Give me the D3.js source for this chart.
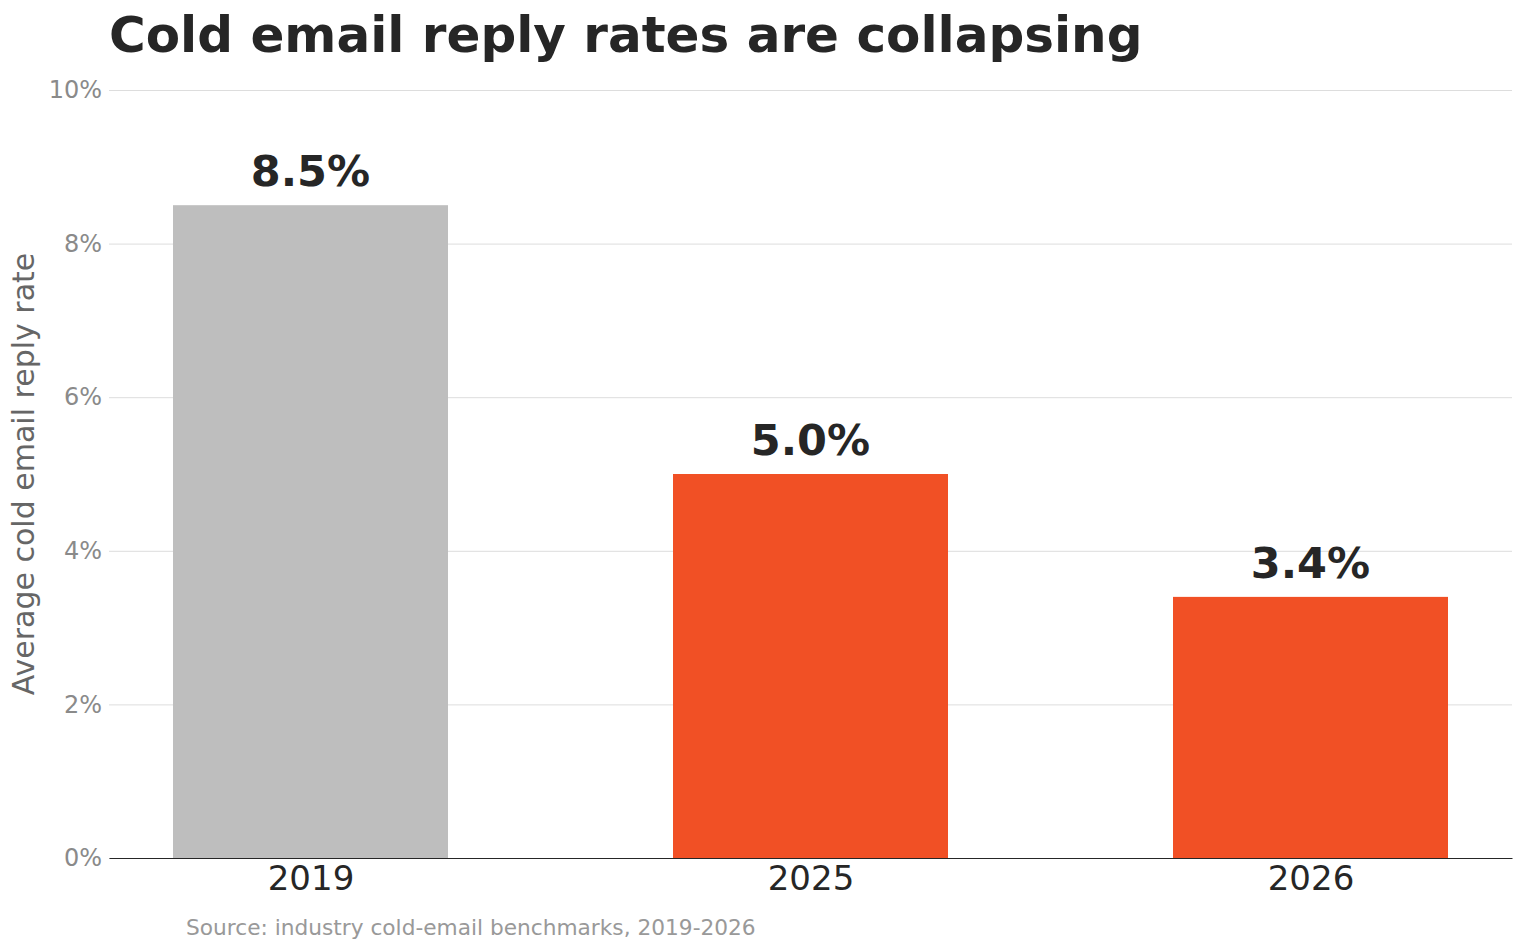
<!DOCTYPE html>
<html lang="en">
<head>
    <meta charset="UTF-8">
    <script src="https://d3js.org/d3.v7.min.js"></script>
    <title>Cold email reply rates</title>
    <style>
        body { margin: 0; background: #fff; }
        svg { display: block; font-family: "DejaVu Sans", sans-serif; }
    </style>
</head>
<body>
    <script>
        const years = ["2019", "2025", "2026"];
        const rates = [8.5, 5.0, 3.4];
        const barColors = ["#bebebe", "#f15025", "#f15025"];
        const yTicks = [0, 2, 4, 6, 8, 10];

        const width = 1524;
        const height = 950;
        const margin = {top: 90, right: 12, bottom: 92, left: 109};

        const data = years.map((y, i) => ({year: y, rate: rates[i], color: barColors[i]}));

        const x = d3.scalePoint()
            .domain(years)
            .range([margin.left, width - margin.right])
            .padding(0.403);
        const barW = x.step() * 0.55;

        const y = d3.scaleLinear()
            .domain([0, 10])
            .range([height - margin.bottom, margin.top]);

        const svg = d3.select('body')
            .append('svg')
            .attr('width', width)
            .attr('height', height);

        // grid
        const yAxis = d3.axisLeft(y)
            .tickValues(yTicks)
            .tickFormat(d => d + '%')
            .tickSize(-(width - margin.left - margin.right))
            .tickPadding(7);

        const gy = svg.append('g')
            .attr('transform', `translate(${margin.left}, 0)`)
            .call(yAxis);
        gy.select('.domain').remove();
        gy.selectAll('line').attr('stroke', '#dddddd').attr('stroke-width', 1);
        gy.selectAll('text')
            .attr('fill', '#8a8a8a')
            .attr('font-size', 24)
            .attr('font-family', '"DejaVu Sans", sans-serif');

        // bars
        svg.selectAll('rect.bar')
            .data(data).enter()
            .append('rect')
            .attr('class', 'bar')
            .attr('x', d => x(d.year) - barW / 2)
            .attr('y', d => y(d.rate))
            .attr('width', barW)
            .attr('height', d => y(0) - y(d.rate))
            .attr('fill', d => d.color);

        // value labels
        svg.selectAll('text.val')
            .data(data).enter()
            .append('text')
            .attr('class', 'val')
            .attr('x', d => x(d.year))
            .attr('y', d => y(d.rate) - 19)
            .attr('text-anchor', 'middle')
            .attr('font-size', 43)
            .attr('font-weight', 'bold')
            .attr('fill', '#262626')
            .text(d => d.rate.toFixed(1) + '%');

        // x axis
        const xAxis = d3.axisBottom(x).tickSize(0).tickPadding(8);
        const gx = svg.append('g')
            .attr('transform', `translate(0, ${y(0)})`)
            .call(xAxis);
        gx.select('.domain').attr('stroke', '#262626').attr('stroke-width', 1.2);
        gx.selectAll('text')
            .attr('fill', '#262626')
            .attr('font-size', 34)
            .attr('font-family', '"DejaVu Sans", sans-serif');

        // title
        svg.append('text')
            .attr('x', margin.left)
            .attr('y', 52)
            .attr('font-size', 50)
            .attr('font-weight', 'bold')
            .attr('fill', '#262626')
            .text('Cold email reply rates are collapsing');

        // y label
        svg.append('text')
            .attr('transform', `translate(34, ${(y(0) + y(10)) / 2}) rotate(-90)`)
            .attr('text-anchor', 'middle')
            .attr('font-size', 30)
            .attr('fill', '#666666')
            .text('Average cold email reply rate');

        // source
        svg.append('text')
            .attr('x', 186)
            .attr('y', 935)
            .attr('font-size', 21.7)
            .attr('fill', '#999999')
            .text('Source: industry cold-email benchmarks, 2019-2026');
    </script>
</body>
</html>
